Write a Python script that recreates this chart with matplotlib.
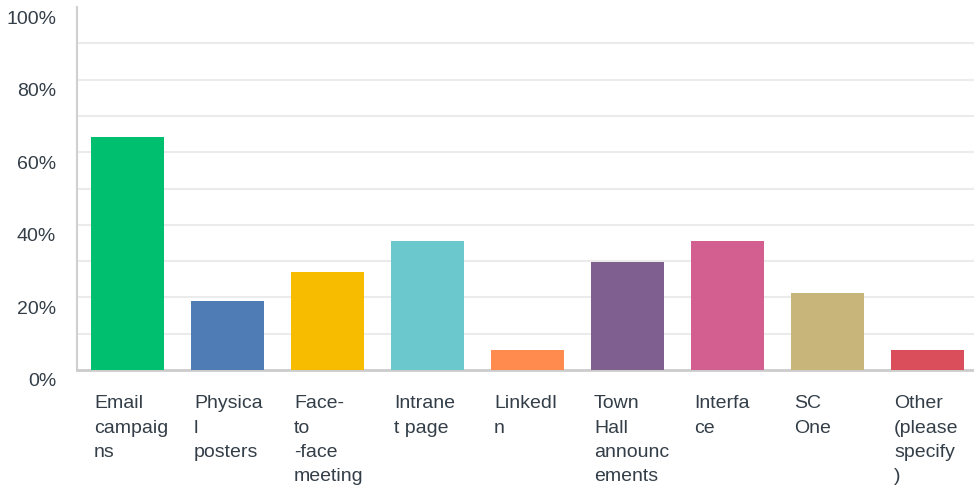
import numpy as np
import matplotlib
matplotlib.use("Agg")
import matplotlib.pyplot as plt
from matplotlib.transforms import offset_copy

# Answer choices (wrapped as in the original) and response share in %
labels = [
    "Email\ncampaig\nns",
    "Physica\nl\nposters",
    "Face-\nto\n-face\nmeeting",
    "Intrane\nt page",
    "LinkedI\nn",
    "Town\nHall\nannounc\nements",
    "Interfa\nce",
    "SC\nOne",
    "Other\n(please\nspecify\n)",
]
values = [64.2, 19.0, 27.0, 35.5, 5.5, 29.8, 35.5, 21.2, 5.5]
colors = ["#00BF6F", "#507CB6", "#F7BC00", "#6BC8CD", "#FF8B4F",
          "#7F5F90", "#D25F90", "#C7B579", "#DA4E5B"]
yticks = [0, 20, 40, 60, 80, 100]

plt.rcParams['font.family'] = ['Liberation Sans', 'DejaVu Sans']

fig = plt.figure(figsize=(9.74, 4.91), dpi=100)
ax = fig.add_axes([77 / 974, 121 / 491, 900 / 974, 363 / 491])

x = np.arange(len(values))
ax.bar(x, values, width=0.73, color=colors, zorder=3)

ax.set_xlim(-0.5, len(values) - 0.5)
ax.set_ylim(0, 100)

# light horizontal gridlines every 10%
for g in range(10, 100, 10):
    ax.axhline(g, color="#ebebeb", linewidth=1.5, zorder=1)

for side in ["top", "right"]:
    ax.spines[side].set_visible(False)
ax.spines["left"].set_color("#d0d0d0")
ax.spines["left"].set_linewidth(1.5)
ax.spines["bottom"].set_color("#cccccc")
ax.spines["bottom"].set_linewidth(2)

ax.set_xticks([])
ax.set_yticks(yticks)
ax.set_yticklabels([f"{t}%" for t in yticks], fontsize=14, color="#333e48")
ax.tick_params(axis="y", length=0, pad=15)
for lab in ax.get_yticklabels():
    lab.set_transform(offset_copy(lab.get_transform(), fig=fig, x=0, y=-10, units="dots"))

# category labels, left aligned under each bar
trans = ax.get_xaxis_transform()
for i, lab in enumerate(labels):
    ax.text(i - 0.365 + 0.035, -0.07, lab, transform=trans, ha="left", va="top",
            fontsize=14, color="#333e48", linespacing=1.55)

fig.savefig("out.png", dpi=100)
